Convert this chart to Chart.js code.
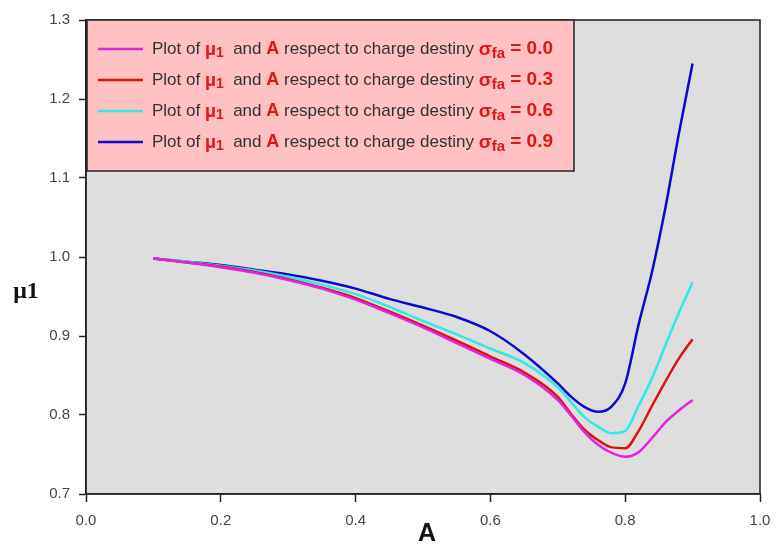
<!DOCTYPE html>
<html>
<head>
<meta charset="utf-8">
<script src="https://cdn.jsdelivr.net/npm/chart.js@4.4.1/dist/chart.umd.min.js"></script>
<style>
    body { margin: 0; background: #fff; }
    #wrap { width: 776px; height: 547px; }
</style>
</head>
<body>
<div id="wrap"><canvas id="mu-chart" width="776" height="547"></canvas></div>
<script>
// A values shared by every curve
var aValues = [0.10, 0.15, 0.20, 0.25, 0.30, 0.35, 0.40, 0.45, 0.50, 0.55, 0.60, 0.65,
    0.70, 0.72, 0.74, 0.76, 0.78, 0.80, 0.82, 0.84, 0.86, 0.88, 0.90];

// mu1 for each charge density sigma_fa
var mu00 = [0.998, 0.993, 0.987, 0.980, 0.971, 0.960, 0.946, 0.929, 0.911, 0.891, 0.871, 0.851,
    0.819, 0.799, 0.778, 0.762, 0.752, 0.747, 0.753, 0.771, 0.791, 0.806, 0.819];
var mu03 = [0.998, 0.993, 0.988, 0.981, 0.972, 0.961, 0.948, 0.931, 0.913, 0.894, 0.874, 0.854,
    0.823, 0.801, 0.781, 0.768, 0.759, 0.758, 0.780, 0.812, 0.843, 0.872, 0.896];
var mu06 = [0.998, 0.994, 0.989, 0.983, 0.975, 0.965, 0.953, 0.937, 0.919, 0.902, 0.884, 0.866,
    0.835, 0.816, 0.797, 0.785, 0.777, 0.780, 0.812, 0.847, 0.889, 0.930, 0.968];
var mu09 = [0.998, 0.994, 0.990, 0.984, 0.978, 0.970, 0.960, 0.947, 0.936, 0.924, 0.906, 0.877,
    0.840, 0.823, 0.810, 0.804, 0.811, 0.840, 0.915, 0.982, 1.064, 1.158, 1.245];

var sigmaLabels = ['0.0', '0.3', '0.6', '0.9'];
var xTicks = [0.0, 0.2, 0.4, 0.6, 0.8, 1.0];
var yTicks = [0.7, 0.8, 0.9, 1.0, 1.1, 1.2, 1.3];

var colors = ['#e024e0', '#e01010', '#30eaea', '#0a0ad0'];
var grey = '#333';
var red = '#e41414';

function toPoints(values) {
    return values.map(function (v, i) {
        return {x: aValues[i], y: v};
    });
}

function drawParts(ctx, x, y, parts) {
    parts.forEach(function (p) {
        ctx.font = p.font;
        ctx.fillStyle = p.color;
        ctx.fillText(p.text, x, y + (p.dy || 0));
        x += ctx.measureText(p.text).width;
    });
}

function drawLegend(ctx, area) {
    var left = area.left + 1, top = area.top, w = 487, h = 151;
    ctx.save();
    ctx.fillStyle = '#ffc1c1';
    ctx.fillRect(left, top, w, h);
    ctx.strokeStyle = '#222';
    ctx.lineWidth = 1.5;
    ctx.strokeRect(left, top, w, h);
    ctx.textBaseline = 'middle';

    var normal = '17px Arial';
    var redFont = 'bold 18px Arial';
    var sub = 'bold 14px Arial';
    var bold = 'bold 19px Arial';
    var boldSub = 'bold 15px Arial';

    sigmaLabels.forEach(function (s, i) {
        var y = top + 29 + i * 31;
        ctx.strokeStyle = colors[i];
        ctx.lineWidth = 2.5;
        ctx.beginPath();
        ctx.moveTo(left + 11, y);
        ctx.lineTo(left + 56, y);
        ctx.stroke();

        drawParts(ctx, left + 65, y, [
            {text: 'Plot of ', font: normal, color: grey},
            {text: 'μ', font: redFont, color: red, dy: 1},
            {text: '1', font: sub, color: red, dy: 4},
            {text: '  and ', font: normal, color: grey},
            {text: 'A', font: redFont, color: red},
            {text: ' respect to charge destiny ', font: normal, color: grey},
            {text: 'σ', font: bold, color: red, dy: 1},
            {text: 'fa', font: boldSub, color: red, dy: 5},
            {text: ' = ' + s, font: bold, color: red}
        ]);
    });
    ctx.restore();
}

var framePlugin = {
    id: 'frame',
    beforeDraw: function (chart) {
        var ctx = chart.ctx, a = chart.chartArea;
        ctx.save();
        ctx.fillStyle = '#fff';
        ctx.fillRect(0, 0, chart.width, chart.height);
        ctx.fillStyle = '#dedede';
        ctx.fillRect(a.left, a.top, a.right - a.left, a.bottom - a.top);
        ctx.restore();
    },
    afterDraw: function (chart) {
        var ctx = chart.ctx, a = chart.chartArea;
        ctx.save();
        ctx.strokeStyle = '#222';
        ctx.lineWidth = 1.5;
        ctx.strokeRect(a.left, a.top, a.right - a.left, a.bottom - a.top);

        drawLegend(ctx, a);

        // axis titles
        ctx.fillStyle = '#111';
        ctx.textAlign = 'center';
        ctx.textBaseline = 'middle';
        ctx.font = 'bold 24px "Liberation Serif", "Times New Roman", serif';
        ctx.fillText('μ1', 26, 292);
        ctx.font = 'bold 25px Arial';
        ctx.fillText('A', 427, 534);
        ctx.restore();
    }
};

var datasets = [mu00, mu03, mu06, mu09].map(function (vals, i) {
    return {
        label: 'σfa = ' + sigmaLabels[i],
        data: toPoints(vals),
        borderColor: colors[i],
        backgroundColor: colors[i],
        borderWidth: 2.5,
        pointRadius: 0,
        fill: false,
        cubicInterpolationMode: 'monotone'
    };
});

var tickFont = {family: 'Arial', size: 15};

new Chart(document.getElementById('mu-chart'), {
    type: 'line',
    data: {datasets: datasets},
    plugins: [framePlugin],
    options: {
        responsive: false,
        animation: false,
        layout: {padding: {top: 20, right: 16, left: 0, bottom: 0}},
        plugins: {legend: {display: false}, tooltip: {enabled: false}},
        scales: {
            x: {
                type: 'linear',
                min: 0,
                max: 1,
                afterFit: function (s) {
                    s.height = 53;
                    s.paddingLeft = 0;
                    s.paddingRight = 0;
                },
                afterBuildTicks: function (s) {
                    s.ticks = xTicks.map(function (v) { return {value: v}; });
                },
                ticks: {
                    font: tickFont,
                    color: '#444',
                    padding: 10,
                    maxRotation: 0,
                    callback: function (v) { return v.toFixed(1); }
                },
                grid: {drawOnChartArea: false, tickLength: 8, tickColor: '#222', tickWidth: 1.5},
                border: {color: '#222', width: 1.5}
            },
            y: {
                min: 0.7,
                max: 1.3,
                afterFit: function (s) {
                    s.width = 86;
                    s.paddingTop = 0;
                    s.paddingBottom = 0;
                },
                afterBuildTicks: function (s) {
                    s.ticks = yTicks.map(function (v) { return {value: v}; });
                },
                ticks: {
                    font: tickFont,
                    color: '#444',
                    padding: 9,
                    callback: function (v) { return v.toFixed(1); }
                },
                grid: {drawOnChartArea: false, tickLength: 7, tickColor: '#222', tickWidth: 1.5},
                border: {color: '#222', width: 1.5}
            }
        }
    }
});
</script>
</body>
</html>
